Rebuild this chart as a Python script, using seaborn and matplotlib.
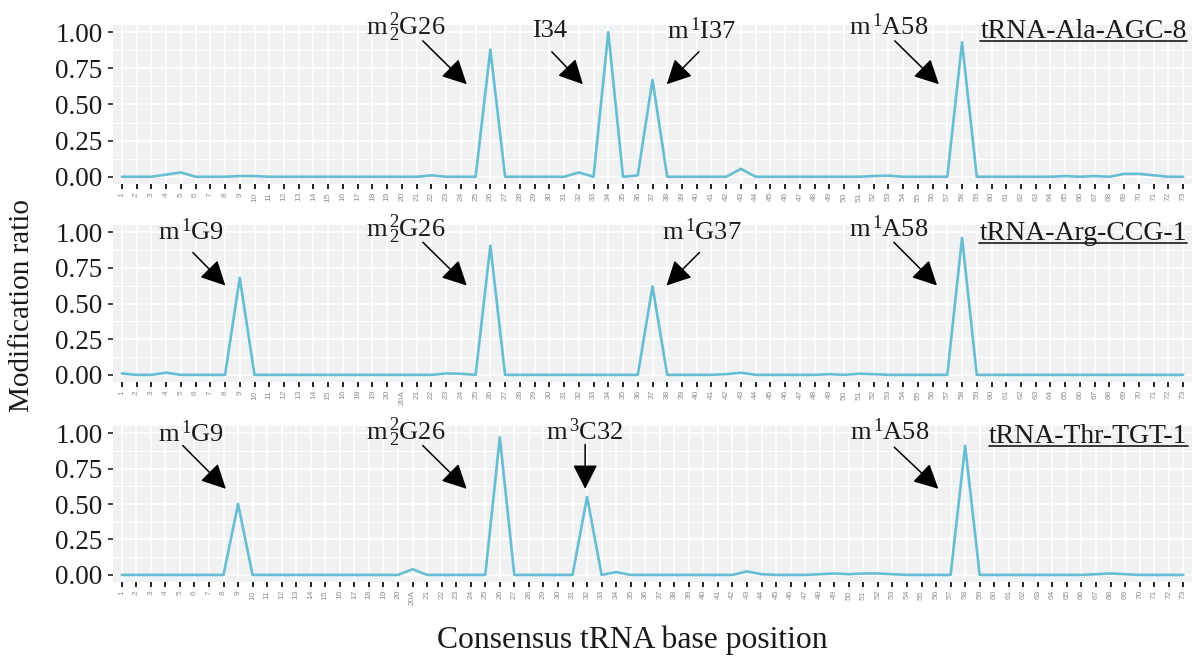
import numpy as np
import pandas as pd
import matplotlib
matplotlib.use('Agg')
import matplotlib.pyplot as plt
from matplotlib.lines import Line2D
from matplotlib.ticker import MultipleLocator
import seaborn as sns

# consensus positions for each tRNA (the Arg one has no 17, Arg/Thr have 20A)
POS_ALA = [str(i) for i in range(1, 74)]
POS_ARG = [str(i) for i in range(1, 17)] + ['18', '19', '20', '20A'] + [str(i) for i in range(21, 74)]
POS_THR = [str(i) for i in range(1, 21)] + ['20A'] + [str(i) for i in range(21, 74)]

# modification ratios
RATIO_ALA = [0, 0, 0, 0.015, 0.03, 0, 0, 0, 0.005, 0.005,
             0, 0, 0, 0, 0, 0, 0, 0, 0, 0,
             0, 0.01, 0, 0, 0, 0.88, 0, 0, 0, 0,
             0, 0.03, 0, 1.0, 0, 0.01, 0.67, 0, 0, 0,
             0, 0, 0.055, 0, 0, 0, 0, 0, 0, 0,
             0, 0.005, 0.008, 0, 0, 0, 0, 0.93, 0, 0,
             0, 0, 0, 0, 0.005, 0, 0.005, 0, 0.02, 0.02,
             0.01, 0, 0]
RATIO_ARG = [0.01, 0, 0, 0.015, 0, 0, 0, 0, 0.68, 0,
             0, 0, 0, 0, 0, 0, 0, 0, 0, 0,
             0, 0, 0.01, 0.008, 0, 0.905, 0, 0, 0, 0,
             0, 0, 0, 0, 0, 0, 0.62, 0, 0, 0,
             0, 0.005, 0.015, 0, 0, 0, 0, 0, 0.005, 0,
             0.008, 0.005, 0, 0, 0, 0, 0, 0.96, 0, 0,
             0, 0, 0, 0, 0, 0, 0, 0, 0, 0,
             0, 0, 0]
RATIO_THR = [0, 0, 0, 0, 0, 0, 0, 0, 0.5, 0,
             0, 0, 0, 0, 0, 0, 0, 0, 0, 0,
             0.04, 0, 0, 0, 0, 0, 0.97, 0, 0, 0,
             0, 0, 0.55, 0, 0.02, 0, 0, 0, 0, 0,
             0, 0, 0, 0.025, 0.005, 0, 0, 0, 0.005, 0.01,
             0.005, 0.01, 0.01, 0.005, 0, 0, 0, 0, 0.91, 0,
             0, 0, 0, 0, 0, 0, 0, 0.005, 0.01, 0.005,
             0, 0, 0, 0]

TITLES = ['tRNA-Ala-AGC-8', 'tRNA-Arg-CCG-1', 'tRNA-Thr-TGT-1']

# annotations: label, text x, text baseline, arrow tail (x, y), arrow tip (x, y)
ANN_ALA = [(r'$m^{\,2}_{\,2}G26$', 19.27, 0.98, 20.42, 0.94, 23.4, 0.64),
           ('I34', 29.0, 0.965, 29.17, 0.865, 31.28, 0.64),
           (r'$m^{\,1}I37$', 39.35, 0.955, 39.15, 0.865, 36.97, 0.64),
           (r'$m^{\,1}A58$', 52.04, 0.98, 52.44, 0.94, 55.43, 0.64)]
ANN_ARG = [(r'$m^{\,1}G9$', 4.68, 0.945, 4.82, 0.857, 7.02, 0.626),
           (r'$m^{\,2}_{\,2}G26$', 19.23, 0.969, 20.42, 0.929, 23.4, 0.626),
           (r'$m^{\,1}G37$', 39.32, 0.945, 39.18, 0.857, 36.95, 0.626),
           (r'$m^{\,1}A58$', 52.04, 0.969, 52.37, 0.929, 55.3, 0.626)]
ANN_THR = [(r'$m^{\,1}G9$', 4.78, 0.94, 4.2, 0.912, 7.16, 0.607),
           (r'$m^{\,2}_{\,2}G26$', 19.51, 0.952, 20.7, 0.912, 23.72, 0.607),
           (r'$m^{\,3}C32$', 31.87, 0.952, 31.87, 0.92, 31.87, 0.607),
           (r'$m^{\,1}A58$', 52.79, 0.95, 53.13, 0.9, 56.16, 0.607)]
TITLE_X = [72.25, 72.25, 73.3]
TITLE_Y = [0.958, 0.945, 0.93]

LINE_COLOR = '#68BDD2'
PANEL_BG = '#F0F1F3'
TEXT_COLOR = '#1a1a1a'
W, H = 1195, 659

sns.set_theme(style='darkgrid')
plt.rcParams['font.family'] = ['Liberation Serif', 'DejaVu Serif']
plt.rcParams['mathtext.fontset'] = 'custom'
plt.rcParams['mathtext.rm'] = 'Liberation Serif'
plt.rcParams['mathtext.it'] = 'Liberation Serif'
plt.rcParams['mathtext.default'] = 'regular'

fig = plt.figure(figsize=(W / 100, H / 100), dpi=100)

# panel boxes in pixels: left, right, top, bottom
boxes = [(113, 1192, 25, 184), (113, 1192, 225, 382), (113, 1192, 426, 582)]
panels = [(POS_ALA, RATIO_ALA, ANN_ALA), (POS_ARG, RATIO_ARG, ANN_ARG), (POS_THR, RATIO_THR, ANN_THR)]

arrow_props = dict(arrowstyle='-|>,head_length=0.75,head_width=0.38', color='black',
                   lw=1.1, shrinkA=0, shrinkB=0, mutation_scale=20)

title_items = []
for i, ((pos, vals, anns), (l, r, t, b)) in enumerate(zip(panels, boxes)):
    ax = fig.add_axes([l / W, 1 - b / H, (r - l) / W, (b - t) / H])
    df = pd.DataFrame({'position': pd.Categorical(pos, categories=pos), 'ratio': vals})
    sns.lineplot(data=df, x='position', y='ratio', ax=ax, color=LINE_COLOR,
                 linewidth=1.9, errorbar=None)

    ax.set_facecolor(PANEL_BG)
    ax.set_xlim(-0.6, len(pos) - 0.4)
    ax.set_ylim(-0.05, 1.05)
    ax.set_xticks(range(len(pos)))
    ax.set_xticklabels(pos, rotation=90, fontsize=6, color='#8f8f8f', fontfamily='Liberation Sans')
    ax.set_yticks([0, 0.25, 0.5, 0.75, 1.0])
    ax.set_yticklabels(['0.00', '0.25', '0.50', '0.75', '1.00'], fontsize=19.5, color=TEXT_COLOR)
    ax.yaxis.set_minor_locator(MultipleLocator(0.125))
    ax.tick_params(axis='x', which='major', bottom=True, length=3.8, width=1.4, color='#222222', pad=2)
    ax.tick_params(axis='y', which='major', left=True, length=3.5, width=1.3, color='#333333', pad=4)
    ax.tick_params(which='minor', length=0)
    ax.grid(which='major', color='white', linewidth=1.2)
    ax.grid(which='minor', axis='y', color='white', linewidth=0.7)
    ax.set_axisbelow(True)
    for s in ax.spines.values():
        s.set_visible(False)
    ax.set_xlabel('')
    ax.set_ylabel('')

    for label, tx, ty, ax0, ay0, ax1, ay1 in anns:
        ax.text(tx, ty, label, ha='center', va='baseline', fontsize=19, color=TEXT_COLOR, clip_on=False)
        ax.annotate('', xy=(ax1, ay1), xytext=(ax0, ay0), arrowprops=arrow_props, annotation_clip=False)

    tt = ax.text(TITLE_X[i], TITLE_Y[i], TITLES[i], ha='right', va='baseline',
                 fontsize=20, color=TEXT_COLOR, clip_on=False)
    title_items.append((ax, tt, TITLE_Y[i]))

fig.text(22 / W, 1 - 306 / H, 'Modification ratio', rotation=90, ha='center', va='center',
         fontsize=21, color=TEXT_COLOR)
fig.text(632 / W, 1 - 640 / H, 'Consensus tRNA base position', ha='center', va='center',
         fontsize=22.8, color=TEXT_COLOR)

# underline the tRNA names
fig.canvas.draw()
renderer = fig.canvas.get_renderer()
for ax, tt, yb in title_items:
    bb = tt.get_window_extent(renderer)
    ydisp = ax.transData.transform((0, yb))[1] - 3
    fig.add_artist(Line2D([bb.x0 / W, bb.x1 / W], [ydisp / H, ydisp / H],
                          transform=fig.transFigure, color=TEXT_COLOR, lw=1.2))

fig.savefig('out.png', dpi=100)
